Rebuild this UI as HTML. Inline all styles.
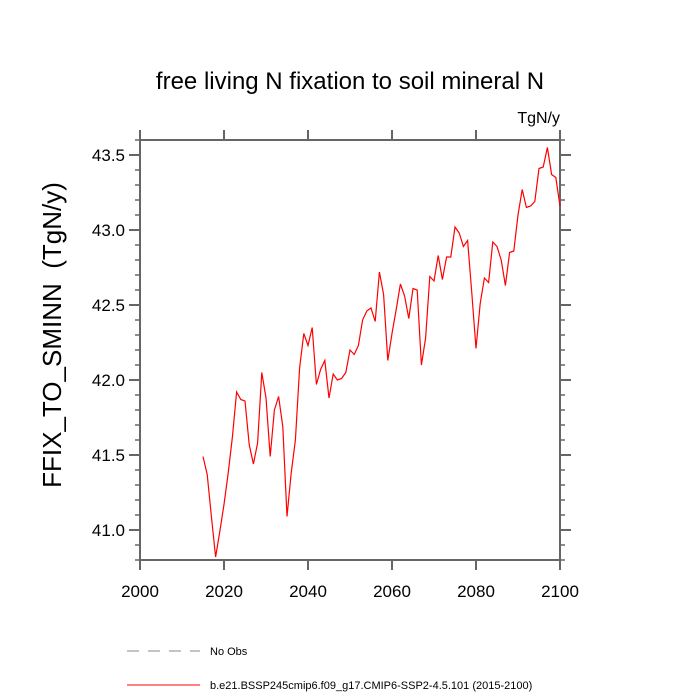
<!DOCTYPE html>
<html><head><meta charset="utf-8"><style>
html,body{margin:0;padding:0;background:#fff;}
svg{display:block;font-family:"Liberation Sans",Arial,sans-serif;}
</style></head><body>
<svg id="chart" width="700" height="700" viewBox="0 0 700 700">
<text x="350" y="89" font-size="24" text-anchor="middle">free living N fixation to soil mineral N</text>
<text x="560" y="123" font-size="16" text-anchor="end">TgN/y</text>
<text transform="translate(61,335) rotate(-90)" font-size="26" text-anchor="middle" style="white-space:pre">FFIX_TO_SMINN  (TgN/y)</text>
<g id="axes"></g>
<g id="series"></g>
<g>
<line x1="127" y1="651" x2="200" y2="651" stroke="#888" stroke-width="1" stroke-dasharray="12,9"/>
<text x="210" y="655" font-size="11">No Obs</text>
<line x1="127" y1="685" x2="200" y2="685" stroke="red" stroke-width="1"/>
<text x="210" y="689" font-size="11">b.e21.BSSP245cmip6.f09_g17.CMIP6-SSP2-4.5.101 (2015-2100)</text>
</g>
</svg>
<script>
const years = [];
for (let y = 2015; y <= 2100; y++) years.push(y);
const values = [41.49,41.37,41.09,40.82,40.99,41.17,41.38,41.62,41.92,41.87,41.86,41.57,41.44,41.58,42.05,41.88,41.49,41.80,41.89,41.69,41.09,41.38,41.60,42.08,42.31,42.23,42.35,41.97,42.07,42.13,41.88,42.04,42.00,42.01,42.05,42.20,42.17,42.23,42.40,42.46,42.48,42.39,42.72,42.57,42.13,42.31,42.47,42.64,42.56,42.41,42.61,42.60,42.10,42.28,42.69,42.66,42.83,42.67,42.82,42.82,43.02,42.98,42.89,42.93,42.58,42.21,42.51,42.68,42.65,42.92,42.89,42.80,42.63,42.85,42.86,43.10,43.27,43.15,43.16,43.19,43.41,43.42,43.55,43.37,43.35,43.16];
const xTicks = [2000,2020,2040,2060,2080,2100];
const yTicks = [41.0,41.5,42.0,42.5,43.0,43.5];
const yTickLabels = ["41.0","41.5","42.0","42.5","43.0","43.5"];

const L=140,R=560,T=140,B=560, X0=2000,X1=2100,Y0=40.8,Y1=43.6;
const sx = v => L + (v - X0) / (X1 - X0) * (R - L);
const sy = v => B - (v - Y0) / (Y1 - Y0) * (B - T);
const NS = "http://www.w3.org/2000/svg";
const axes = document.getElementById('axes');
function mk(tag, attrs, parent) {
  const e = document.createElementNS(NS, tag);
  for (const k in attrs) e.setAttribute(k, attrs[k]);
  parent.appendChild(e);
  return e;
}
const ax = "#666";
const frame = mk('rect', {x:L,y:T,width:R-L,height:B-T,fill:'none',stroke:ax,'stroke-width':2}, axes);


for (let i = Math.round(Y0*10); i <= Math.round(Y1*10); i++) {
  const v = i/10, y = sy(v);
  const major = (i % 5 === 0);
  const len = major ? 11 : 5;
  const t1 = mk('line', {x1:L-len,y1:y,x2:L,y2:y,stroke:ax,'stroke-width':major?2:1.5}, axes);
  
  
  const t2 = mk('line', {x1:R,y1:y,x2:R+len,y2:y,stroke:ax,'stroke-width':major?2:1.5}, axes);
  
  
}
yTicks.forEach((v, i) => {
  const t = mk('text', {x:L-15,y:sy(v)+6,'font-size':17,'text-anchor':'end'}, axes);
  t.textContent = yTickLabels[i];
  
  
});
xTicks.forEach(v => {
  const x = sx(v);
  const b = mk('line', {x1:x,y1:B,x2:x,y2:B+10,stroke:ax,'stroke-width':2}, axes);
  
  
  const tp = mk('line', {x1:x,y1:T-10,x2:x,y2:T,stroke:ax,'stroke-width':2}, axes);
  
  
  const t = mk('text', {x:x,y:B+37,'font-size':17,'text-anchor':'middle'}, axes);
  t.textContent = String(v);
  
  
});
const pts = years.map((yr, i) => sx(yr).toFixed(2) + ',' + sy(values[i]).toFixed(2)).join(' ');
const line = mk('polyline', {points:pts,fill:'none',stroke:'red','stroke-width':1.2}, document.getElementById('series'));


</script>
</body></html>
